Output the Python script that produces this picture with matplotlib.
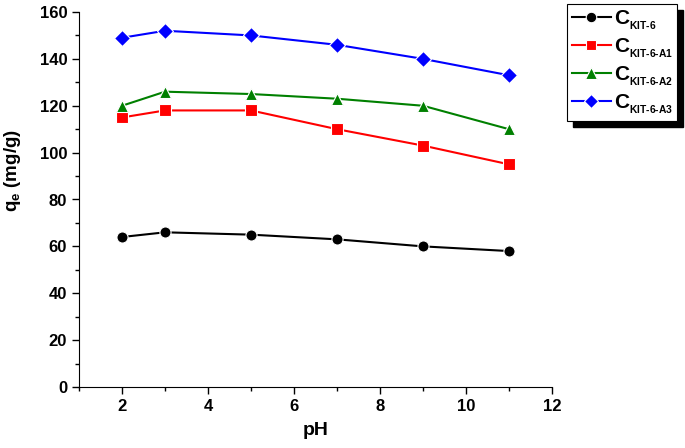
import numpy as np
import matplotlib
matplotlib.use("Agg")
import matplotlib.pyplot as plt
from matplotlib.ticker import MultipleLocator
from matplotlib.patches import Rectangle

plt.rcParams['font.family'] = 'Liberation Sans'
plt.rcParams['font.weight'] = 'bold'
plt.rcParams['mathtext.fontset'] = 'custom'
plt.rcParams['mathtext.rm'] = 'Liberation Sans:bold'
plt.rcParams['mathtext.it'] = 'Liberation Sans:bold'
plt.rcParams['mathtext.bf'] = 'Liberation Sans:bold'
plt.rcParams['mathtext.default'] = 'rm'

ph = [2, 3, 5, 7, 9, 11]
q_kit6 = [64, 66, 65, 63, 60, 58]
q_a1 = [115, 118, 118, 110, 103, 95]
q_a2 = [120, 126, 125, 123, 120, 110]
q_a3 = [149, 152, 150, 146, 140, 133]

subs = ['KIT-6', 'KIT-6-A1', 'KIT-6-A2', 'KIT-6-A3']

fig = plt.figure(figsize=(6.85, 4.48), dpi=100)
ax = fig.add_axes([79/685, 1-387/448, (552-79)/685, (387-12)/448])

series = [q_kit6, q_a1, q_a2, q_a3]
colors = ['black', '#ff0000', '#008000', '#0000ff']
markers = ['o', 's', '^', 'D']
sizes = [8, 8, 9, 8]
for y, c, m, s, sub in zip(series, colors, markers, sizes, subs):
    # double subscript gives the small index under the big "C"
    lab = r'C$_{{}_{\mathrm{' + sub.replace('-', r'\text{-}') + '}}}$'
    ax.plot(ph, y, color=c, marker=m, ms=s, mec='white', mew=0.8, lw=1.5, label=lab)

ax.set_xlim(1, 12)
ax.set_ylim(0, 160)
ax.xaxis.set_major_locator(MultipleLocator(2))
ax.xaxis.set_minor_locator(MultipleLocator(1))
ax.yaxis.set_major_locator(MultipleLocator(20))
ax.yaxis.set_minor_locator(MultipleLocator(10))
ax.tick_params(which='major', direction='out', length=5, width=1, labelsize=12)
ax.tick_params(which='minor', direction='out', length=3, width=1)
for t in ax.get_xticklabels() + ax.get_yticklabels():
    t.set_fontweight('bold')
ax.spines['top'].set_visible(False)
ax.spines['right'].set_visible(False)
ax.set_xlabel('pH', fontsize=14, fontweight='bold', labelpad=6)
ax.set_ylabel(r'q$_{\mathrm{e}}$ (mg/g)', fontsize=13.5, fontweight='bold')
ax.yaxis.set_label_coords(-0.118, 0.576)

leg = fig.legend(loc='upper right', bbox_to_anchor=(677/685, 1-4/448), borderaxespad=0,
                 fancybox=False, edgecolor='black', framealpha=1, fontsize=15,
                 handlelength=1.9, handletextpad=0.12, labelspacing=0.22,
                 borderpad=0.2, markerscale=0.95)
leg.get_frame().set_linewidth(0.8)

fig.canvas.draw()
r = fig.canvas.get_renderer()
fb = leg.get_frame().get_window_extent(r)
fig.patches.append(Rectangle((fb.x0 + 6, fb.y0 - 6), fb.width, fb.height,
                             transform=None, facecolor='black', edgecolor='black',
                             zorder=4, figure=fig))

fig.savefig('out.png', dpi=100)
